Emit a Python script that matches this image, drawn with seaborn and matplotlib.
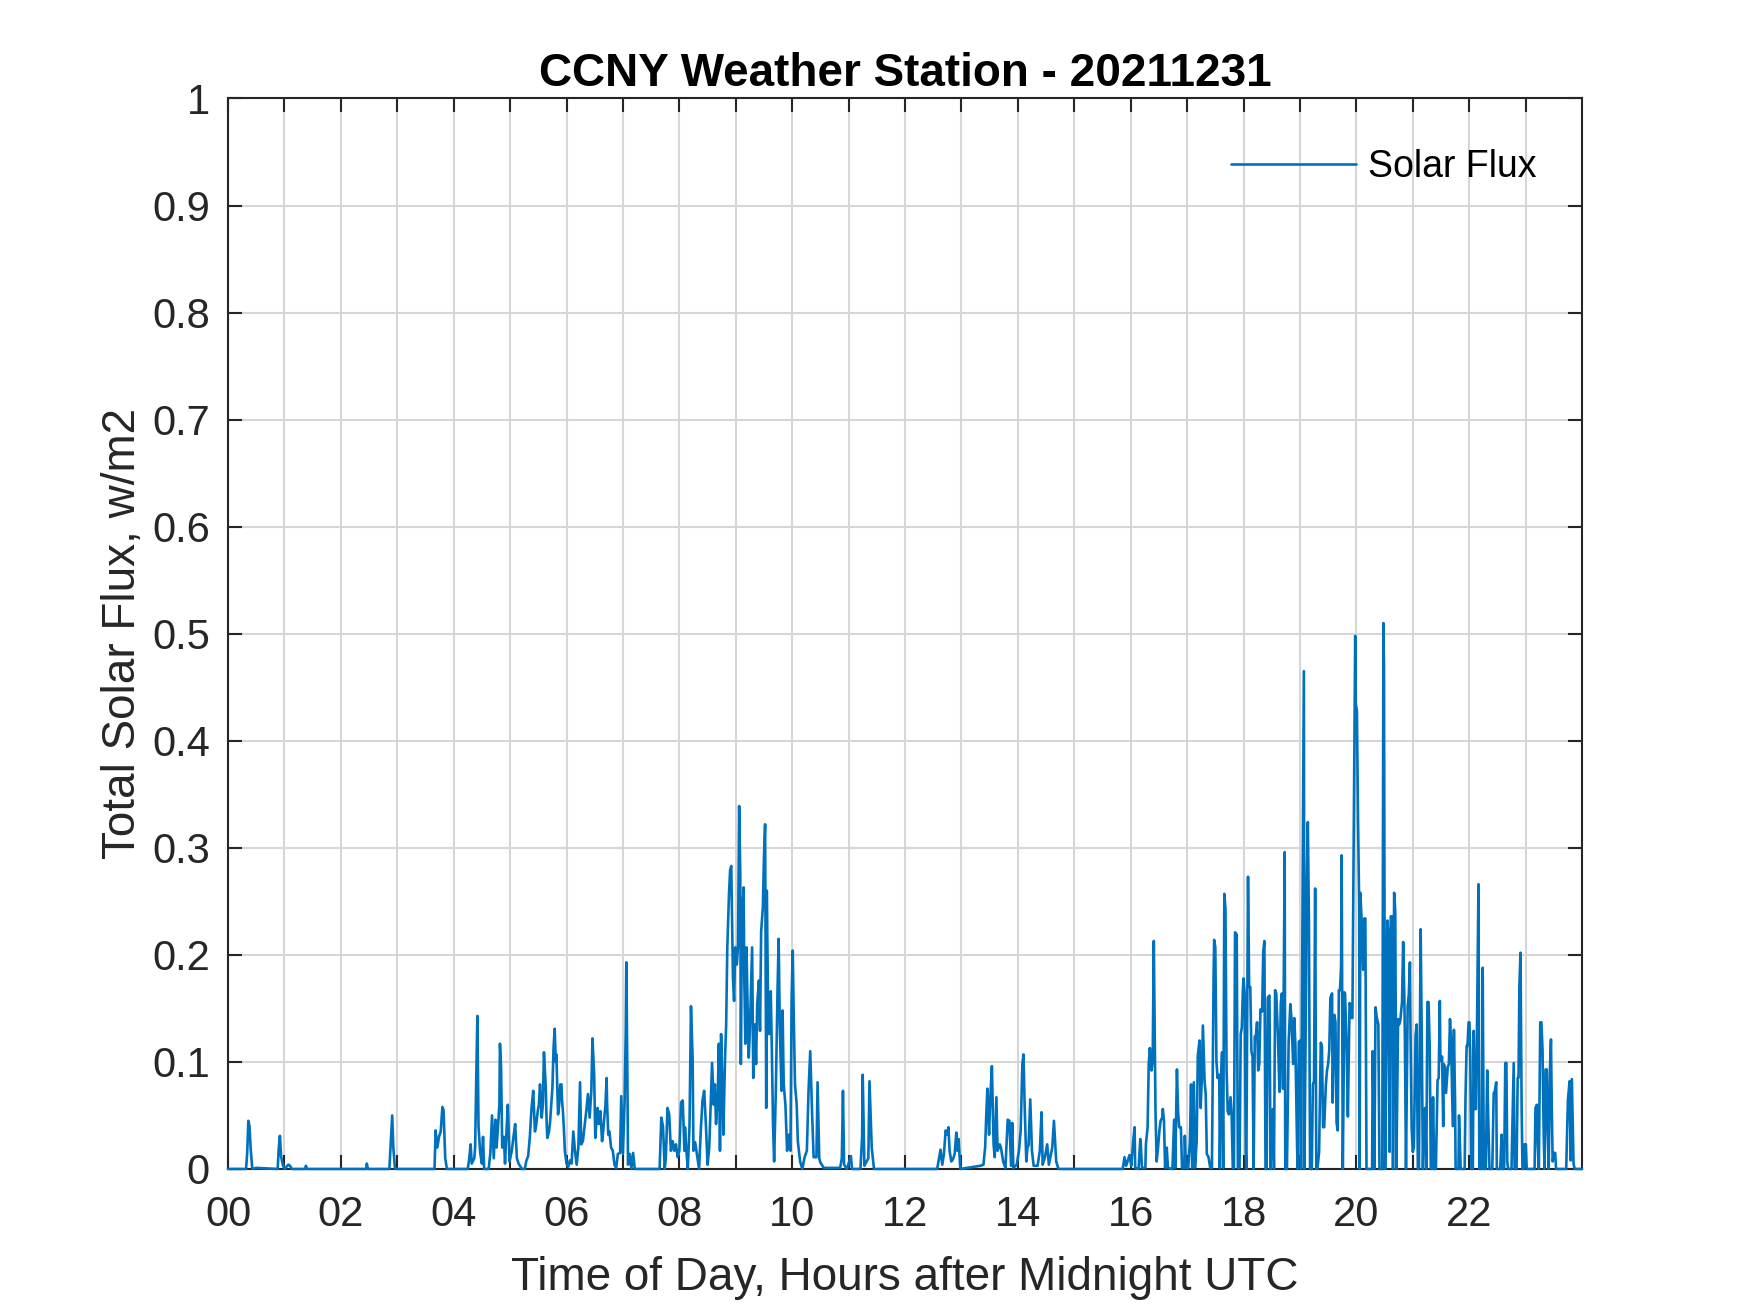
import matplotlib
matplotlib.use("Agg")
import matplotlib.pyplot as plt
import seaborn as sns
import pandas as pd

# Readings (hour after midnight UTC, total solar flux w/m2)
seg_00_04 = [(0.00,0.0),(0.32,0.0),(0.34,0.015),(0.36,0.045),(0.38,0.040),(0.40,0.020),(0.43,0.0),(0.50,0.001),
             (0.88,0.0),(0.90,0.020),(0.92,0.031),(0.94,0.012),(0.97,0.004),(1.00,0.0),(1.07,0.004),(1.10,0.003),
             (1.13,0.0),(1.37,0.0),(1.38,0.003),(1.40,0.0),(2.45,0.0),(2.46,0.005),(2.48,0.0),(2.86,0.0),
             (2.89,0.030),(2.91,0.050),(2.93,0.020),(2.96,0.0),(3.66,0.0),(3.68,0.036),(3.71,0.020),(3.74,0.030),
             (3.77,0.035),(3.80,0.058),(3.82,0.055),(3.85,0.010),(3.88,0.0),(4.25,0.0)]

seg_04_08 = [(4.276,0.010),(4.30,0.023),(4.32,0.005),(4.365,0.010),(4.38,0.020),(4.40,0.085),(4.42,0.143),(4.44,0.040),
             (4.47,0.015),(4.50,0.005),(4.52,0.030),(4.54,0.0),(4.62,0.0),(4.65,0.015),(4.68,0.050),(4.71,0.010),
             (4.74,0.046),(4.76,0.020),(4.78,0.035),(4.81,0.060),(4.82,0.117),(4.84,0.095),(4.86,0.020),(4.89,0.030),
             (4.91,0.005),(4.94,0.040),(4.96,0.060),(4.99,0.007),(5.03,0.017),(5.06,0.030),(5.09,0.042),(5.12,0.010),
             (5.15,0.005),(5.21,0.0),(5.26,0.0),(5.29,0.008),(5.32,0.012),(5.35,0.030),(5.38,0.057),(5.41,0.073),
             (5.44,0.035),(5.46,0.040),(5.49,0.054),(5.51,0.060),(5.53,0.079),(5.56,0.048),(5.58,0.060),(5.60,0.109),
             (5.62,0.090),(5.63,0.079),(5.65,0.040),(5.66,0.029),(5.69,0.035),(5.71,0.045),(5.73,0.060),(5.75,0.076),
             (5.77,0.113),(5.79,0.131),(5.81,0.100),(5.82,0.107),(5.84,0.070),(5.85,0.051),(5.87,0.060),(5.89,0.079),
             (5.91,0.079),(5.92,0.065),(5.94,0.051),(5.96,0.030),(5.97,0.017),(6.00,0.005),(6.03,0.002),(6.06,0.008),
             (6.09,0.005),(6.12,0.035),(6.15,0.017),(6.18,0.004),(6.21,0.020),(6.24,0.081),(6.25,0.050),(6.26,0.023),
             (6.29,0.026),(6.32,0.040),(6.35,0.054),(6.38,0.070),(6.41,0.048),(6.44,0.073),(6.46,0.122),(6.49,0.088),
             (6.51,0.029),(6.53,0.045),(6.55,0.057),(6.57,0.042),(6.60,0.054),(6.63,0.026),(6.65,0.035),(6.66,0.042),
             (6.69,0.060),(6.71,0.085),(6.72,0.060),(6.74,0.032),(6.76,0.035),(6.79,0.020),(6.82,0.017),(6.85,0.004),
             (6.88,0.001),(6.91,0.014),(6.95,0.015),(6.97,0.068),(7.00,0.014),(7.03,0.064),(7.05,0.130),(7.06,0.193),
             (7.08,0.079),(7.09,0.004),(7.12,0.014),(7.15,0.0),(7.18,0.015),(7.21,0.0),(7.65,0.0),(7.68,0.048),
             (7.71,0.040),(7.74,0.0),(7.76,0.010),(7.79,0.057),(7.82,0.051),(7.85,0.017),(7.88,0.026),(7.91,0.017),
             (7.94,0.023),(7.97,0.011),(8.00,0.017),(8.03,0.062),(8.06,0.064),(8.09,0.017),(8.10,0.039),(8.12,0.020),
             (8.15,0.0),(8.18,0.040)]

seg_08_12 = [(8.206,0.152),(8.235,0.104),(8.25,0.017),(8.28,0.025),(8.31,0.014),(8.35,0.0),(8.38,0.036),(8.41,0.064),
             (8.44,0.073),(8.47,0.042),(8.50,0.004),(8.53,0.020),(8.56,0.067),(8.58,0.099),(8.61,0.060),(8.63,0.079),
             (8.65,0.042),(8.68,0.067),(8.70,0.117),(8.72,0.017),(8.74,0.126),(8.76,0.082),(8.78,0.032),(8.81,0.104),
             (8.83,0.135),(8.85,0.207),(8.88,0.257),(8.90,0.279),(8.92,0.283),(8.94,0.213),(8.95,0.179),(8.97,0.157),
             (8.99,0.207),(9.02,0.191),(9.04,0.210),(9.06,0.339),(9.08,0.275),(9.09,0.098),(9.11,0.235),(9.14,0.263),
             (9.15,0.182),(9.17,0.117),(9.19,0.207),(9.21,0.151),(9.23,0.104),(9.25,0.129),(9.28,0.185),(9.29,0.207),
             (9.31,0.085),(9.34,0.135),(9.36,0.098),(9.38,0.154),(9.41,0.176),(9.43,0.129),(9.45,0.222),(9.48,0.244),
             (9.50,0.291),(9.52,0.322),(9.54,0.057),(9.55,0.260),(9.57,0.166),(9.59,0.126),(9.62,0.166),(9.64,0.110),
             (9.66,0.042),(9.68,0.007),(9.71,0.073),(9.74,0.166),(9.76,0.215),(9.78,0.135),(9.81,0.073),(9.83,0.148),
             (9.85,0.079),(9.88,0.060),(9.91,0.017),(9.94,0.032),(9.97,0.017),(9.99,0.160),(10.01,0.204),(10.03,0.135),
             (10.05,0.079),(10.08,0.060),(10.10,0.026),(10.14,0.007),(10.18,0.0),(10.22,0.011),(10.26,0.017),(10.29,0.073),
             (10.32,0.110),(10.35,0.057),(10.38,0.011),(10.43,0.011),(10.45,0.081),(10.48,0.010),(10.50,0.006),(10.56,0.001),
             (10.85,0.001),(10.88,0.010),(10.90,0.073),(10.92,0.004),(10.97,0.0),(11.04,0.012),(11.06,0.0),(11.21,0.0),
             (11.24,0.030),(11.25,0.088),(11.28,0.003),(11.35,0.010),(11.37,0.082),(11.41,0.020),(11.45,0.0),(12.57,0.0)]

seg_12_16 = [(12.61,0.012),(12.63,0.018),(12.66,0.004),(12.69,0.014),(12.72,0.036),(12.75,0.032),(12.77,0.039),(12.79,0.017),
             (12.82,0.007),(12.85,0.009),(12.88,0.014),(12.91,0.034),(12.93,0.017),(12.95,0.028),(12.98,0.0),(13.34,0.003),
             (13.39,0.004),(13.42,0.020),(13.44,0.050),(13.46,0.075),(13.49,0.032),(13.51,0.064),(13.54,0.096),(13.57,0.023),
             (13.59,0.011),(13.62,0.067),(13.64,0.017),(13.68,0.023),(13.70,0.020),(13.74,0.007),(13.78,0.001),(13.82,0.046),
             (13.85,0.045),(13.88,0.003),(13.90,0.043),(13.92,0.001),(13.98,0.004),(14.02,0.017),(14.05,0.036),(14.08,0.098),
             (14.10,0.107),(14.12,0.060),(14.15,0.007),(14.17,0.020),(14.19,0.022),(14.22,0.065),(14.25,0.017),(14.28,0.003),
             (14.35,0.003),(14.39,0.017),(14.42,0.053),(14.44,0.004),(14.48,0.011),(14.52,0.023),(14.55,0.004),(14.61,0.020),
             (14.64,0.045),(14.68,0.007),(14.72,0.0),(15.86,0.0),(15.89,0.011),(15.92,0.003),(15.98,0.013),(16.01,0.003)]

seg_16_20 = [(16.05,0.029),(16.07,0.039),(16.08,0.001),(16.14,0.0),(16.17,0.028),(16.18,0.023),(16.20,0.001),(16.26,0.001),
             (16.27,0.023),(16.30,0.039),(16.32,0.098),(16.34,0.113),(16.37,0.092),(16.39,0.101),(16.41,0.213),(16.43,0.101),
             (16.44,0.054),(16.46,0.007),(16.48,0.017),(16.51,0.036),(16.53,0.045),(16.56,0.048),(16.57,0.056),(16.59,0.045),
             (16.61,0.001),(16.64,0.020),(16.66,0.001),(16.74,0.0),(16.77,0.046),(16.79,0.001),(16.82,0.093),(16.84,0.054),
             (16.86,0.039),(16.89,0.039),(16.91,0.001),(16.95,0.001),(16.96,0.031),(16.98,0.001),(17.02,0.001),(17.05,0.026),
             (17.07,0.079),(17.09,0.001),(17.12,0.081),(17.14,0.001),(17.17,0.026),(17.19,0.106),(17.22,0.120),(17.24,0.057),
             (17.26,0.082),(17.28,0.134),(17.31,0.082),(17.33,0.070),(17.35,0.014),(17.38,0.011),(17.41,0.001),(17.44,0.001),
             (17.47,0.182),(17.48,0.214),(17.50,0.207),(17.52,0.101),(17.54,0.085),(17.57,0.088),(17.58,0.001),(17.60,0.082),
             (17.62,0.109),(17.64,0.001),(17.66,0.257),(17.68,0.243),(17.70,0.092),(17.72,0.054),(17.74,0.051),(17.77,0.067),
             (17.79,0.051),(17.81,0.001),(17.83,0.001),(17.85,0.221),(17.88,0.219),(17.90,0.001),(17.93,0.001),(17.95,0.126),
             (17.97,0.132),(17.99,0.169),(18.00,0.178),(18.02,0.164),(18.04,0.016),(18.05,0.0),(18.08,0.273),(18.10,0.170),
             (18.12,0.170),(18.14,0.110),(18.16,0.105),(18.18,0.0),(18.20,0.124),(18.22,0.124),(18.24,0.137),(18.26,0.092),
             (18.28,0.098),(18.30,0.149),(18.33,0.147),(18.35,0.203),(18.37,0.213),(18.39,0.0),(18.41,0.0),(18.43,0.160),
             (18.46,0.162),(18.48,0.0),(18.50,0.046),(18.52,0.056),(18.54,0.0),(18.56,0.167),(18.58,0.164),(18.61,0.124),
             (18.63,0.085),(18.64,0.072),(18.66,0.154),(18.68,0.164),(18.70,0.075),(18.73,0.296),(18.74,0.0),(18.77,0.0),
             (18.80,0.118),(18.83,0.154),(18.85,0.141),(18.88,0.098),(18.90,0.141),(18.92,0.115),(18.95,0.020),(18.96,0.0),
             (18.98,0.119),(19.01,0.120),(19.02,0.0),(19.04,0.193),(19.07,0.465),(19.08,0.0),(19.11,0.180),(19.12,0.268),
             (19.14,0.324),(19.16,0.229),(19.18,0.0),(19.21,0.0),(19.23,0.079),(19.25,0.082),(19.27,0.262),(19.29,0.0),
             (19.31,0.0),(19.34,0.016),(19.37,0.118),(19.39,0.115),(19.41,0.039),(19.43,0.039),(19.46,0.079),(19.48,0.092),
             (19.50,0.098),(19.52,0.111),(19.54,0.160),(19.57,0.164),(19.58,0.062),(19.61,0.144),(19.63,0.137),(19.65,0.043),
             (19.67,0.036),(19.69,0.167),(19.71,0.167),(19.73,0.190),(19.74,0.293),(19.76,0.0),(19.79,0.165),(19.80,0.164),
             (19.83,0.110),(19.85,0.049),(19.88,0.155),(19.89,0.154),(19.92,0.141),(19.93,0.141),(19.96,0.360),(19.98,0.498),
             (19.99,0.435)]

seg_20_24 = [(20.01,0.428),(20.03,0.326),(20.05,0.248),(20.06,0.0),(20.07,0.258),(20.09,0.237),(20.12,0.186),(20.14,0.234),
             (20.16,0.234),(20.18,0.0),(20.28,0.0),(20.29,0.110),(20.32,0.0),(20.34,0.151),(20.36,0.142),(20.39,0.135),
             (20.41,0.0),(20.46,0.0),(20.48,0.510),(20.49,0.469),(20.51,0.0),(20.53,0.091),(20.55,0.232),(20.57,0.219),
             (20.59,0.016),(20.61,0.236),(20.64,0.236),(20.65,0.0),(20.67,0.258),(20.69,0.241),(20.71,0.0),(20.74,0.140),
             (20.76,0.135),(20.78,0.139),(20.81,0.156),(20.83,0.212),(20.85,0.163),(20.86,0.125),(20.88,0.0),(20.91,0.152),
             (20.93,0.163),(20.95,0.193),(20.96,0.129),(20.98,0.040),(21.00,0.016),(21.02,0.020),(21.05,0.125),(21.07,0.135),
             (21.09,0.0),(21.11,0.0),(21.14,0.224),(21.16,0.122),(21.18,0.0),(21.20,0.054),(21.22,0.057),(21.24,0.0),
             (21.26,0.156),(21.28,0.156),(21.30,0.115),(21.32,0.0),(21.34,0.0),(21.36,0.067),(21.38,0.0),(21.41,0.0),
             (21.44,0.083),(21.46,0.085),(21.48,0.157),(21.49,0.101),(21.52,0.105),(21.54,0.040),(21.55,0.098),(21.57,0.095),
             (21.59,0.071),(21.62,0.095),(21.64,0.098),(21.66,0.140),(21.68,0.118),(21.71,0.040),(21.73,0.130),(21.75,0.064),
             (21.76,0.0),(21.81,0.0),(21.82,0.050),(21.85,0.0),(21.92,0.0),(21.935,0.067),(21.955,0.115),(21.97,0.115),
             (21.99,0.137),(22.005,0.137),(22.02,0.104),(22.04,0.0),(22.065,0.0),(22.08,0.129),(22.10,0.056),(22.12,0.056),
             (22.14,0.138),(22.165,0.266),(22.18,0.0),(22.22,0.0),(22.24,0.188),(22.26,0.0),(22.295,0.0),(22.32,0.092),
             (22.34,0.043),(22.36,0.0),(22.41,0.0),(22.435,0.071),(22.45,0.071),(22.48,0.081),(22.49,0.0),(22.55,0.0),
             (22.575,0.032),(22.59,0.0),(22.62,0.0),(22.64,0.099),(22.66,0.099),(22.675,0.007),(22.69,0.0),(22.75,0.0),
             (22.79,0.099),(22.805,0.0),(22.84,0.0),(22.86,0.085),(22.875,0.085),(22.89,0.171),(22.91,0.202),(22.93,0.057),
             (22.945,0.0),(22.965,0.0),(22.98,0.023),(23.005,0.023),(23.02,0.0),(23.16,0.0),(23.175,0.057),(23.20,0.060),
             (23.215,0.023),(23.235,0.0),(23.26,0.137),(23.28,0.137),(23.30,0.112),(23.32,0.036),(23.335,0.0),(23.355,0.093),
             (23.375,0.093),(23.39,0.036),(23.41,0.0),(23.43,0.090),(23.45,0.121),(23.465,0.054),(23.48,0.007),(23.505,0.015),
             (23.525,0.015),(23.54,0.0),(23.72,0.0),(23.75,0.064),(23.78,0.082),(23.80,0.008),(23.82,0.084),(23.85,0.005),
             (23.87,0.0),(24.0,0.0)]

hour_ticks = list(range(0, 24))
hour_labels = [f"{h:02d}" if h % 2 == 0 else "" for h in hour_ticks]
flux_ticks = [0, 0.1, 0.2, 0.3, 0.4, 0.5, 0.6, 0.7, 0.8, 0.9, 1.0]
flux_labels = ["0", "0.1", "0.2", "0.3", "0.4", "0.5", "0.6", "0.7", "0.8", "0.9", "1"]

rows = seg_00_04 + seg_04_08 + seg_08_12 + seg_12_16 + seg_16_20 + seg_20_24
df = pd.DataFrame(rows, columns=["hours", "flux"])

sns.set_theme(style="white")
plt.rcParams["font.family"] = ["Liberation Sans", "DejaVu Sans"]

AX_COL = "#262626"
fig = plt.figure(figsize=(17.5, 13.13), dpi=100)
ax = fig.add_axes([0.1303, 0.1097, 0.7737, 0.8153])

sns.lineplot(data=df, x="hours", y="flux", ax=ax, color="#0072BD", linewidth=1.9,
             label="Solar Flux", estimator=None, sort=False, zorder=3, clip_on=False)

ax.set_xlim(0, 24)
ax.set_ylim(0, 1)
ax.set_xticks(hour_ticks)
ax.set_xticklabels(hour_labels)
ax.set_yticks(flux_ticks)
ax.set_yticklabels(flux_labels)

ax.set_axisbelow(True)
ax.grid(True, color="#d6d6d6", linewidth=1.5)
for s in ax.spines.values():
    s.set_visible(True)
    s.set_color(AX_COL)
    s.set_linewidth(1.5)
    s.set_zorder(2.5)

ax.tick_params(axis="both", which="major", direction="in", length=10, width=1.5,
               top=True, right=True, bottom=True, left=True, labelsize=30,
               color=AX_COL, labelcolor=AX_COL)
ax.tick_params(axis="x", pad=19)
ax.tick_params(axis="y", pad=13)

ax.set_title("CCNY Weather Station - 20211231", fontsize=33, fontweight="bold",
             color="black", pad=9)
ax.set_xlabel("Time of Day, Hours after Midnight UTC", fontsize=33, color=AX_COL, va="baseline")
ax.xaxis.set_label_coords(0.5, -0.113)
ax.set_ylabel("Total Solar Flux, w/m2", fontsize=33, color=AX_COL, va="baseline")
ax.yaxis.set_label_coords(-0.0686, 0.5)

leg = ax.legend(loc="center left", bbox_to_anchor=(0.741, 0.936), frameon=False,
                fontsize=27, handlelength=3.33, handletextpad=0.32, borderpad=0,
                borderaxespad=0)
for t in leg.get_texts():
    t.set_color("black")

fig.savefig("out.png", dpi=100)
